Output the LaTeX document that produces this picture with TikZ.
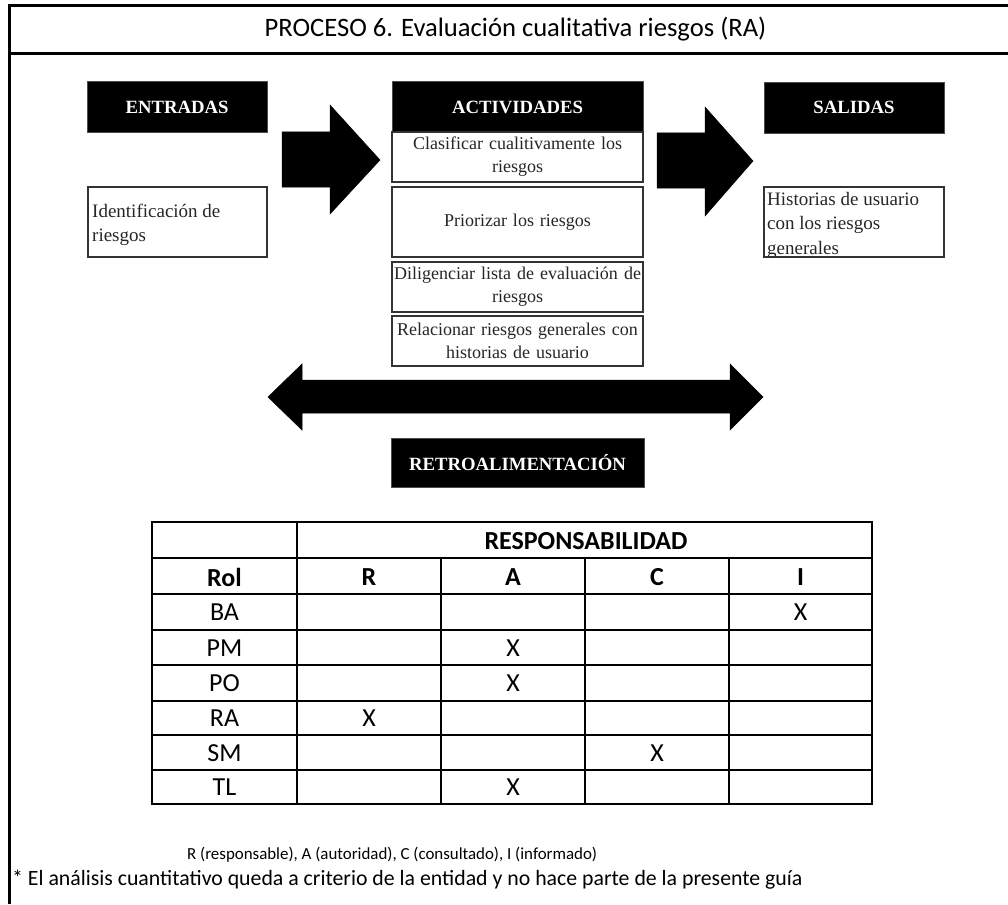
\documentclass[tikz,border=0pt]{standalone}
\usepackage{fontspec}
\setmainfont{Liberation Serif}
\newfontfamily\calfont{Carlito}
\begin{document}
\begin{tikzpicture}[x=1pt,y=-1pt,
  hdr/.style={fill=black, draw=black!70, line width=0.8pt, text=white,
    font=\fontsize{18.7}{21}\selectfont\bfseries, inner sep=0pt, minimum height=51},
  actbox/.style={draw=black!80, line width=1.4pt, fill=white, text=black!85,
    font=\fontsize{18}{23}\selectfont, align=center, inner sep=0pt,
    minimum width=251, text width=251},
  sidebox/.style={draw=black!80, line width=1.4pt, minimum width=179, minimum height=70, inner sep=0pt},
  sidetext/.style={text=black!85, font=\fontsize{19}{24.5}\selectfont, align=left, inner sep=0pt, anchor=west},
  blockarrow/.style={fill=black, draw=black, line width=0.5pt, line join=miter},
  frameline/.style={line width=3pt},
  grid/.style={line width=1.3pt},
  tcell/.style={font=\calfont\fontsize{26}{28}\selectfont, inner sep=0pt},
  thead/.style={font=\calfont\fontsize{26}{28}\selectfont\bfseries, inner sep=0pt}]
\useasboundingbox (0,0) rectangle (1008,904);

% frame of the sheet
\draw[frameline] (1008,6) -- (9.5,6) -- (9.5,904);
\draw[frameline] (9.5,54) -- (1008,54);
\node[font=\calfont\fontsize{26.6}{30}\selectfont, inner sep=0pt] (title) at (515.5,29)
  {PROCESO 6. Evaluación cualitativa riesgos (RA)};

% column headers
\node[hdr, minimum width=180] (entradas) at (177,107) {ENTRADAS};
\node[hdr, minimum width=251] (actividades) at (517.5,107) {ACTIVIDADES};
\node[hdr, minimum width=180] (salidas) at (854,107.5) {SALIDAS};

% inputs
\node[sidebox] (inbox) at (177.5,222) {};
\node[sidetext] (intext) at (92,225) {Identificación de\\riesgos};

% activities
\node[actbox, minimum height=50] (act1) at (517.5,157) {Clasificar cualitivamente los\\riesgos};
\node[actbox, minimum height=70] (act2) at (517.5,222) {Priorizar los riesgos};
\node[actbox, minimum height=50] (act3) at (517.5,287) {Diligenciar lista de evaluación de\\riesgos};
\node[actbox, minimum height=50] (act4) at (517.5,341) {Relacionar riesgos generales con\\historias de usuario};

% outputs
\node[sidetext, anchor=north west] (outtext) at (767,192) {Historias de usuario\\con los riesgos\\generales};
\node[sidebox, minimum width=180] (outbox) at (854,222) {};

% block arrows
\fill[blockarrow] (282,132) -- (330,132) -- (330,105) -- (380,160) -- (330,214) -- (330,187) -- (282,187) -- cycle;
\fill[blockarrow] (657,133) -- (705,133) -- (705,107) -- (753,161) -- (705,216) -- (705,188) -- (657,188) -- cycle;
\fill[blockarrow] (268,397) -- (302,364) -- (302,380) -- (730,380) -- (730,364) -- (763,397)
  -- (730,430) -- (730,413) -- (302,413) -- (302,430) -- cycle;

\node[hdr, minimum width=253, minimum height=49] (retro) at (517.5,462.5) {RETROALIMENTACIÓN};

% responsibility table
\draw[grid] (152,522) rectangle (872,804);
\foreach \yy in {558,594,630,665,701,735,770} \draw[grid] (152,\yy) -- (872,\yy);
\draw[grid] (297,522) -- (297,804);
\foreach \xx in {441,585,729} \draw[grid] (\xx,558) -- (\xx,804);

\node[thead] (resp) at (586,541) {RESPONSABILIDAD};
\node[thead] (rol) at (224.5,577) {Rol};
\node[thead] (hR) at (369,577) {R};
\node[thead] (hA) at (513,577) {A};
\node[thead] (hC) at (657,577) {C};
\node[thead] (hI) at (800.5,577) {I};

\node[tcell] (ba) at (224.5,612) {BA};
\node[tcell] (pm) at (224.5,648) {PM};
\node[tcell] (po) at (224.5,683) {PO};
\node[tcell] (ra) at (224.5,718) {RA};
\node[tcell] (sm) at (224.5,753) {SM};
\node[tcell] (tl) at (224.5,787) {TL};

\node[tcell] (x1) at (800.5,612) {X};
\node[tcell] (x2) at (513,648) {X};
\node[tcell] (x3) at (513,683) {X};
\node[tcell] (x4) at (369,718) {X};
\node[tcell] (x5) at (657,753) {X};
\node[tcell] (x6) at (513,787) {X};

% notes
\node[font=\calfont\fontsize{16.9}{19}\selectfont, inner sep=0pt, anchor=west] (legend) at (187,855)
  {R (responsable), A (autoridad), C (consultado), I (informado)};
\node[font=\calfont\fontsize{21.8}{24}\selectfont, inner sep=0pt, anchor=west] (note) at (12,880)
  {* El análisis cuantitativo queda a criterio de la entidad y no hace parte de la presente guía};
\end{tikzpicture}
\end{document}
